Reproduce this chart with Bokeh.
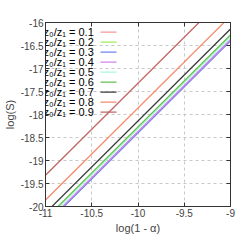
from bokeh.plotting import figure
from bokeh.models import LinearAxis, Range1d, Label, FixedTicker, CustomJSTickFormatter
from bokeh.embed import file_html
from bokeh.resources import INLINE

# data
ratios = ["0.1", "0.2", "0.3", "0.4", "0.5", "0.6", "0.7", "0.8", "0.9"]
colors = ["#f49a9a", "#a0ee5a", "#6e86f0", "#d484f0", "#aaf8de", "#64c050", "#3a3a3a", "#f58c6e", "#c06464"]
x_start = -11.0
x_end = -9.0
y_at_start = [-20.39, -20.38, -20.40, -20.37, -20.31, -20.27, -20.14, -19.86, -19.32]
y_at_end = [-16.39, -16.38, -16.40, -16.37, -16.31, -16.27, -16.14, -15.86, -15.32]
x_ticks = [-11, -10.5, -10, -9.5, -9]
y_ticks = [-20, -19.5, -19, -18.5, -18, -17.5, -17, -16.5, -16]

FONT = "Liberation Sans"

p = figure(frame_width=185, frame_height=184, output_backend="svg", toolbar_location=None,
           x_range=Range1d(-11, -9), y_range=Range1d(-20, -16),
           min_border_top=22, min_border_right=6, min_border_left=0, min_border_bottom=0)
p.background_fill_color = "white"
p.outline_line_color = "#333333"
p.outline_line_width = 1

for ax in (p.xaxis[0], p.yaxis[0]):
    ax.ticker = FixedTicker(ticks=x_ticks if ax is p.xaxis[0] else y_ticks)
    ax.major_label_text_font = FONT
    ax.major_label_text_font_size = "10px"
    ax.axis_label_text_font = FONT
    ax.axis_label_text_font_size = "11px"
    ax.axis_label_text_font_style = "normal"
    ax.major_tick_in = 4
    ax.major_tick_out = 0
    ax.minor_tick_in = 0
    ax.minor_tick_out = 0
    ax.axis_line_color = "#333333"
    ax.major_tick_line_color = "#333333"
    ax.major_label_standoff = 2
    ax.axis_label_standoff = 2
p.xaxis[0].axis_label = "log(1 - α)"
p.yaxis[0].axis_label = "log(S)"
p.yaxis[0].major_label_orientation = "horizontal"
p.xaxis[0].formatter = CustomJSTickFormatter(code="return String(tick);")
p.yaxis[0].formatter = CustomJSTickFormatter(code="return String(tick);")

blank = CustomJSTickFormatter(code="return '';")
for loc, tks in (("right", y_ticks), ("above", x_ticks)):
    a = LinearAxis(ticker=FixedTicker(ticks=tks), formatter=blank,
                   major_tick_in=4, major_tick_out=0, minor_tick_in=0, minor_tick_out=0,
                   major_label_standoff=0, major_label_text_font_size="1px",
                   axis_line_color="#333333", major_tick_line_color="#333333")
    p.add_layout(a, loc)

p.xgrid.ticker = FixedTicker(ticks=x_ticks)
p.ygrid.ticker = FixedTicker(ticks=y_ticks)
for g in (p.xgrid[0], p.ygrid[0]):
    g.grid_line_color = "#c8c8c8"
    g.grid_line_dash = "3 3"
    g.grid_line_width = 1

for i, r in enumerate(ratios):
    p.line([x_start, x_end], [y_at_start[i], y_at_end[i]], line_color=colors[i], line_width=1.3)

# key (label left, sample right)
key_text_x = -10.478
key_x0, key_x1 = -10.405, -10.232
key_y0 = -16.211
key_dy = 0.2174
for i, r in enumerate(ratios):
    yy = key_y0 - i * key_dy
    p.add_layout(Label(x=key_text_x, y=yy, text="z₀/z₁ = " + r, text_align="right",
                       text_baseline="middle", text_font=FONT, text_font_size="11px",
                       text_color="black"))
    p.segment(x0=[key_x0], y0=[yy], x1=[key_x1], y1=[yy], line_color=colors[i], line_width=1.3)

open("out.html", "w").write(file_html(p, INLINE))
